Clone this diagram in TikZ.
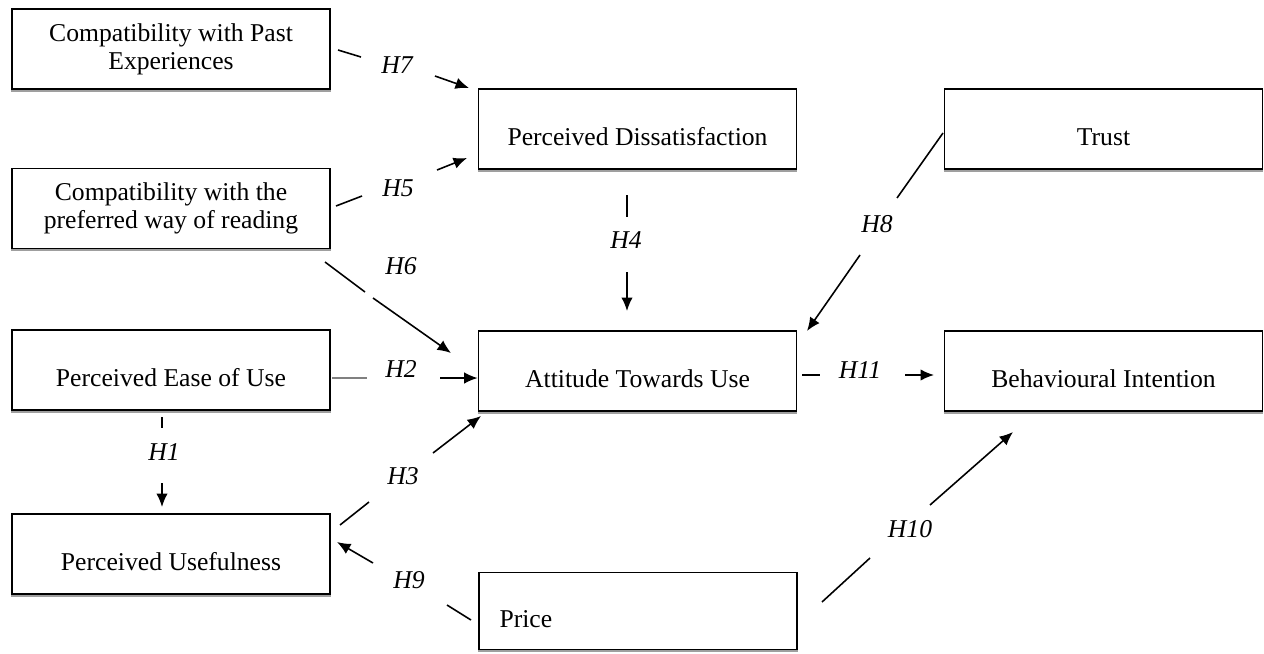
\documentclass[tikz,border=0pt]{standalone}
\usepackage{fontspec}
\setmainfont{Liberation Serif}
\usetikzlibrary{arrows.meta}
\begin{document}
\begin{tikzpicture}[x=0.02cm,y=-0.02cm,
  box/.style={draw,line width=1pt,minimum width=6.36cm,minimum height=1.6cm,inner sep=0pt,
    append after command={\pgfextra{\draw[gray!75,line width=1.2pt]
      ([yshift=-0.02cm]\tikzlastnode.south west) -- ([yshift=-0.02cm]\tikzlastnode.south east);}}},
  txt/.style={font=\fontsize{14.6}{16}\selectfont,align=center,inner sep=0pt},
  hl/.style={font=\fontsize{14.6}{16}\selectfont\itshape,inner sep=0pt},
  seg/.style={line width=0.9pt},
  arr/.style={line width=0.9pt,-{Latex[length=0.27cm,width=0.23cm]}}]
\useasboundingbox (0,0) rectangle (1264,653);

% boxes
\node[box] (cpe) at (171,49) {};
\node[txt] at (cpe) {Compatibility with Past\\Experiences};
\node[box] (cpw) at (171,208.5) {};
\node[txt] at (cpw) {Compatibility with the\\preferred way of reading};
\node[box] (peou) at (171,370) {};
\node[txt] at ([yshift=-0.16cm]peou.center) {Perceived Ease of Use};
\node[box] (pu) at (171,554) {};
\node[txt] at ([yshift=-0.16cm]pu.center) {Perceived Usefulness};
\node[box] (pd) at (637.5,129) {};
\node[txt] at ([yshift=-0.16cm]pd.center) {Perceived Dissatisfaction};
\node[box] (atu) at (637.5,371) {};
\node[txt] at ([yshift=-0.16cm]atu.center) {Attitude Towards Use};
\node[box,minimum height=1.54cm] (price) at (638,611) {};
\node[txt,anchor=west] at ([xshift=0.42cm,yshift=-0.17cm]price.west) {Price};
\node[box] (trust) at (1103.5,129) {};
\node[txt] at ([yshift=-0.16cm]trust.center) {Trust};
\node[box] (bi) at (1103.5,371) {};
\node[txt] at ([yshift=-0.16cm]bi.center) {Behavioural Intention};

% H7
\coordinate (h7a) at (338,50); \coordinate (h7b) at (361,57);
\coordinate (h7c) at (435,76); \coordinate (h7d) at (469,88);
\draw[seg] (h7a) -- (h7b); \draw[arr] (h7c) -- (h7d);
\node[hl] (l7) at (397,65) {H7};
% H5
\coordinate (h5a) at (336,206); \coordinate (h5b) at (362,196);
\coordinate (h5c) at (437,170); \coordinate (h5d) at (467,158);
\draw[seg] (h5a) -- (h5b); \draw[arr] (h5c) -- (h5d);
\node[hl] (l5) at (398,188) {H5};
% H6
\coordinate (h6a) at (325,262); \coordinate (h6b) at (365,292);
\coordinate (h6c) at (373,298); \coordinate (h6d) at (451,353);
\draw[seg] (h6a) -- (h6b); \draw[arr] (h6c) -- (h6d);
\node[hl] (l6) at (401,266) {H6};
% H4
\coordinate (h4a) at (627,195); \coordinate (h4b) at (627,217);
\coordinate (h4c) at (627,272); \coordinate (h4d) at (627,311);
\draw[seg] (h4a) -- (h4b); \draw[arr] (h4c) -- (h4d);
\node[hl] (l4) at (626,240) {H4};
% H2
\coordinate (h2a) at (332,378); \coordinate (h2b) at (367,378);
\coordinate (h2c) at (440,378);
\draw[line width=1.4pt,gray] (h2a) -- (h2b); \draw[arr] (h2c) -- (atu.west |- h2c);
\node[hl] (l2) at (401,369) {H2};
% H1
\coordinate (h1a) at (162,417); \coordinate (h1b) at (162,428);
\coordinate (h1c) at (162,483); \coordinate (h1d) at (162,507);
\draw[seg] (h1a) -- (h1b); \draw[arr] (h1c) -- (h1d);
\node[hl] (l1) at (164,452) {H1};
% H3
\coordinate (h3a) at (340,525); \coordinate (h3b) at (369,502);
\coordinate (h3c) at (433,453); \coordinate (h3d) at (481,416);
\draw[seg] (h3a) -- (h3b); \draw[arr] (h3c) -- (h3d);
\node[hl] (l3) at (403,476) {H3};
% H9
\coordinate (h9a) at (471,620); \coordinate (h9b) at (447,605);
\coordinate (h9c) at (373,563); \coordinate (h9d) at (337,542);
\draw[seg] (h9a) -- (h9b); \draw[arr] (h9c) -- (h9d);
\node[hl] (l9) at (409,580) {H9};
% H10
\coordinate (h10a) at (822,602); \coordinate (h10b) at (870,558);
\coordinate (h10c) at (930,505); \coordinate (h10d) at (1013,432);
\draw[seg] (h10a) -- (h10b); \draw[arr] (h10c) -- (h10d);
\node[hl] (l10) at (910,529) {H10};
% H11
\coordinate (h11a) at (802,375); \coordinate (h11b) at (820,375);
\coordinate (h11c) at (905,375); \coordinate (h11d) at (934,375);
\draw[seg] (h11a) -- (h11b); \draw[arr] (h11c) -- (h11d);
\node[hl] (l11) at (860,370) {H11};
% H8
\coordinate (h8a) at (943,133); \coordinate (h8b) at (897,198);
\coordinate (h8c) at (860,255); \coordinate (h8d) at (807,331);
\draw[seg] (h8a) -- (h8b); \draw[arr] (h8c) -- (h8d);
\node[hl] (l8) at (877,224) {H8};
\end{tikzpicture}
\end{document}
